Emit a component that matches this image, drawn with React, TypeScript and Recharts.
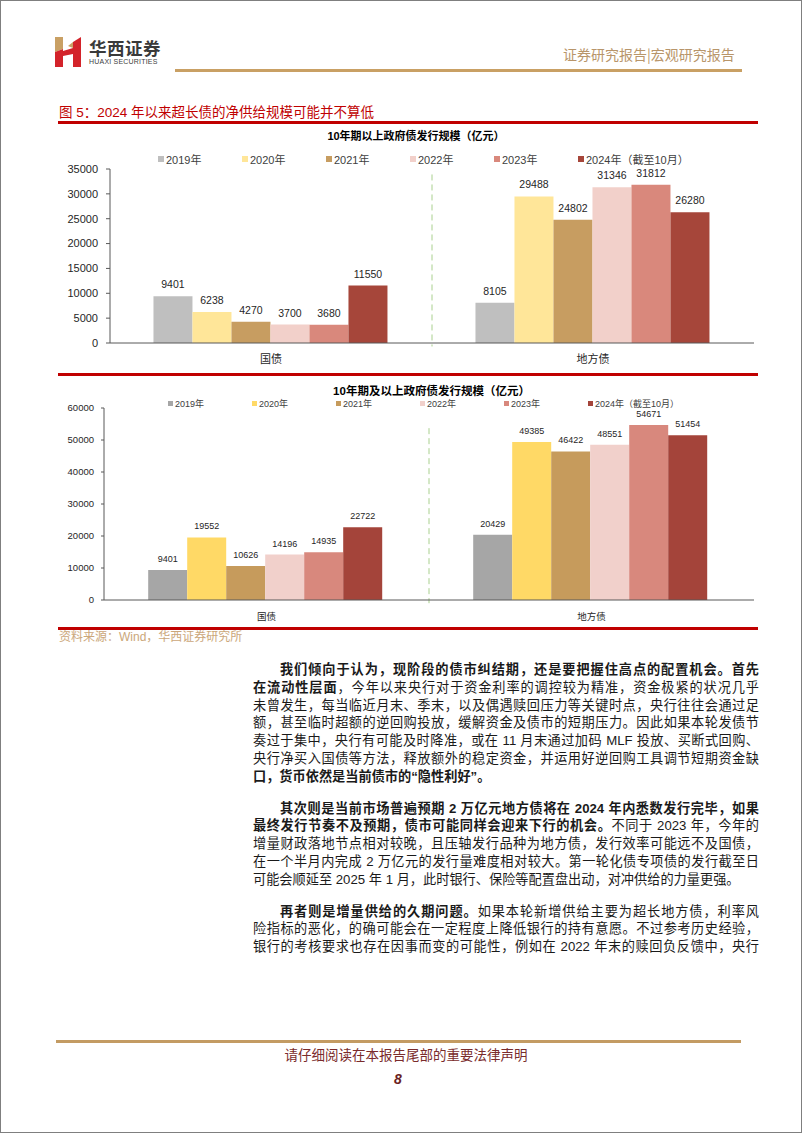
import React from "react"
import { BarChart, Bar, XAxis, YAxis, ReferenceLine, LabelList } from "recharts"

const categories = ["国债", "地方债"]
const years = ["2019年", "2020年", "2021年", "2022年", "2023年", "2024年（截至10月）"]
const keys = ["y2019", "y2020", "y2021", "y2022", "y2023", "y2024"]

// 10年期以上
const over10Treasury = [9401, 6238, 4270, 3700, 3680, 11550]
const over10Local = [8105, 29488, 24802, 31346, 31812, 26280]
// 10年期及以上
const from10Treasury = [9401, 19552, 10626, 14196, 14935, 22722]
const from10Local = [20429, 49385, 46422, 48551, 54671, 51454]

const ticksTop = [0, 5000, 10000, 15000, 20000, 25000, 30000, 35000]
const ticksBottom = [0, 10000, 20000, 30000, 40000, 50000, 60000]

const colorsTop = ["#bfbfbf", "#ffe699", "#c79d61", "#f2d0ca", "#d9887c", "#a6463a"]
const colorsBottom = ["#a6a6a6", "#ffd966", "#c69b5c", "#f1d0cb", "#d8887d", "#a4443a"]

const toRows = (treasury: number[], local: number[]) =>
  categories.map((name, i) => {
    const vals = i === 0 ? treasury : local
    const row: any = { name }
    keys.forEach((k, j) => (row[k] = vals[j]))
    return row
  })

const chartFont = "Arial, 'Liberation Sans', 'Noto Sans CJK SC', sans-serif"
const cjkFont = "'Liberation Sans', 'Noto Sans CJK SC', sans-serif"

interface GroupChartProps {
  top: number
  data: any[]
  colors: string[]
  ticks: number[]
  yWidth: number
  marginTop: number
  xHeight: number
  tickFont: number
  labelFont: number
  catFont: number
  gap: string
  sepTop: number
  sepBottom: number
  yTickSize: number
  yTickMargin: number
  xTickMargin: number
}

const GroupChart: React.FC<GroupChartProps> = (p) => {
  const max = p.ticks[p.ticks.length - 1]
  return (
    <div style={{ position: "absolute", left: 0, top: p.top, fontFamily: chartFont }}>
      <BarChart
        width={802}
        height={245}
        data={p.data}
        barCategoryGap={p.gap}
        barGap={0}
        margin={{ top: p.marginTop, right: 49, bottom: 0, left: 0 }}
      >
        <XAxis
          dataKey="name"
          height={p.xHeight}
          axisLine={{ stroke: "#595959" }}
          tickLine={false}
          tickSize={6}
          tickMargin={p.xTickMargin}
          tick={{ fontSize: p.catFont, fill: "#262626" }}
        />
        <YAxis
          width={p.yWidth}
          domain={[0, max]}
          ticks={p.ticks}
          interval={0}
          axisLine={{ stroke: "#595959" }}
          tickLine={{ stroke: "#595959" }}
          tickSize={p.yTickSize}
          tickMargin={p.yTickMargin}
          tick={{ fontSize: p.tickFont, fill: "#262626" }}
        />
        {/* dashed divider on the boundary between the two category bands */}
        <ReferenceLine
          segment={[
            { x: categories[0], y: p.sepTop },
            { x: categories[0], y: p.sepBottom },
          ]}
          position="end"
          ifOverflow="visible"
          stroke="#a9d08e"
          strokeDasharray="6 4"
        />
        {keys.map((k, i) => (
          <Bar key={k} dataKey={k} name={years[i]} fill={p.colors[i]} isAnimationActive={false}>
            <LabelList dataKey={k} position="top" offset={8} fill="#262626" fontSize={p.labelFont} />
          </Bar>
        ))}
      </BarChart>
    </div>
  )
}

const Legend: React.FC<{ top: number; left: number; colors: string[]; font: number; box: number }> = ({
  top,
  left,
  colors,
  font,
  box,
}) => (
  <>
    {years.map((y, i) => (
      <div
        key={y}
        style={{
          position: "absolute",
          left: left + i * 84,
          top: top - font * 0.7,
          height: font * 1.4,
          display: "flex",
          alignItems: "center",
          fontFamily: chartFont,
          fontSize: font,
          color: "#404040",
          whiteSpace: "nowrap",
        }}
      >
        <span style={{ width: box, height: box, background: colors[i], marginRight: 2 }} />
        {y}
      </div>
    ))}
  </>
)

type Seg = [string, boolean]
const para1: Seg[][] = [
  [["我们倾向于认为，现阶段的债市纠结期，还是要把握住高点的配置机会。首先", true]],
  [["在流动性层面", true], ["，今年以来央行对于资金利率的调控较为精准，资金极紧的状况几乎", false]],
  [["未曾发生，每当临近月末、季末，以及偶遇赎回压力等关键时点，央行往往会通过足", false]],
  [["额，甚至临时超额的逆回购投放，缓解资金及债市的短期压力。因此如果本轮发债节", false]],
  [["奏过于集中，央行有可能及时降准，或在 11 月末通过加码 MLF 投放、买断式回购、", false]],
  [["央行净买入国债等方法，释放额外的稳定资金，并运用好逆回购工具调节短期资金缺", false]],
  [["口，货币依然是当前债市的“隐性利好”。", true]],
]
const para2: Seg[][] = [
  [["其次则是当前市场普遍预期 2 万亿元地方债将在 2024 年内悉数发行完毕，如果", true]],
  [["最终发行节奏不及预期，债市可能同样会迎来下行的机会。", true], ["不同于 2023 年，今年的", false]],
  [["增量财政落地节点相对较晚，且压轴发行品种为地方债，发行效率可能远不及国债，", false]],
  [["在一个半月内完成 2 万亿元的发行量难度相对较大。第一轮化债专项债的发行截至日", false]],
  [["可能会顺延至 2025 年 1 月，此时银行、保险等配置盘出动，对冲供给的力量更强。", false]],
]
const para3: Seg[][] = [
  [["再者则是增量供给的久期问题。", true], ["如果本轮新增供给主要为超长地方债，利率风", false]],
  [["险指标的恶化，的确可能会在一定程度上降低银行的持有意愿。不过参考历史经验，", false]],
  [["银行的考核要求也存在因事而变的可能性，例如在 2022 年末的赎回负反馈中，央行", false]],
]

const LINE = 17.8
const PARA_GAP = 14
const BODY_TOP = 660

const Paragraph: React.FC<{ top: number; lines: Seg[][]; lastJustified?: boolean }> = ({ top, lines, lastJustified }) => (
  <div style={{ position: "absolute", left: 252, top, width: 506, fontFamily: cjkFont, fontSize: 13.2, color: "#1a1a1a" }}>
    {lines.map((line, i) => {
      const justify = i < lines.length - 1 || lastJustified
      return (
        <div
          key={i}
          style={{
            height: LINE,
            lineHeight: `${LINE}px`,
            textAlign: justify ? "justify" : "left",
            textAlignLast: justify ? "justify" : "left",
            paddingLeft: i === 0 ? 27 : 0,
          }}
        >
          {line.map(([t, b], j) => (
            <span key={j} style={{ fontWeight: b ? 700 : 400 }}>
              {t}
            </span>
          ))}
        </div>
      )
    })}
  </div>
)

const Logo = () => (
  <svg width={28} height={30} style={{ position: "absolute", left: 54, top: 36 }}>
    <polygon points="0,0 8,0 8,12 0,15" fill="#c9a064" />
    <polygon points="0,15 8,12 8,30 0,30" fill="#d3232a" />
    <polygon points="8,14 18,11 18,17 8,19" fill="#d3232a" />
    <polygon points="18,5 26,0 26,30 18,30" fill="#d3232a" />
    <polygon points="13,9 18,5 18,11" fill="#c9a064" />
  </svg>
)

const abs = (s: React.CSSProperties): React.CSSProperties => ({ position: "absolute", ...s })

export default function App() {
  const topRows = toRows(over10Treasury, over10Local)
  const bottomRows = toRows(from10Treasury, from10Local)
  return (
    <div
      style={{
        position: "absolute",
        left: 0,
        top: 0,
        width: 802,
        height: 1133,
        background: "#fff",
        border: "1px solid #7f7f7f",
        boxSizing: "border-box",
        overflow: "hidden",
      }}
    >
      <Logo />
      <div style={abs({ left: 88, top: 36, fontFamily: "'Noto Sans CJK SC'", fontWeight: 700, fontSize: 17.5, color: "#3a3a3a", letterSpacing: 0.5, lineHeight: "22px" })}>
        华西证券
      </div>
      <div style={abs({ left: 88, top: 56, fontFamily: cjkFont, fontSize: 7, color: "#404040", letterSpacing: 0.2, lineHeight: "9px" })}>
        HUAXI SECURITIES
      </div>
      <div style={abs({ left: 562, top: 44, fontFamily: "'Noto Sans CJK SC'", fontSize: 14, color: "#b8956a", lineHeight: "18px", whiteSpace: "nowrap" })}>
        证券研究报告|宏观研究报告
      </div>
      <div style={abs({ left: 174, top: 68, width: 567, height: 3, background: "#c9a064" })} />

      <div style={abs({ left: 58, top: 103, fontFamily: cjkFont, fontSize: 13.5, color: "#c00000", lineHeight: "18px", whiteSpace: "nowrap" })}>
        图 5：2024 年以来超长债的净供给规模可能并不算低
      </div>
      <div style={abs({ left: 57, top: 120, width: 700, height: 2.5, background: "#c00000" })} />

      <GroupChart
        top={125}
        data={topRows}
        colors={colorsTop}
        ticks={ticksTop}
        yWidth={109}
        marginTop={43}
        xHeight={28}
        tickFont={11}
        labelFont={10.5}
        catFont={11}
        gap="13.5%"
        sepTop={33900}
        sepBottom={-700}
        yTickSize={4}
        yTickMargin={8}
        xTickMargin={6}
      />
      <div style={abs({ left: 0, width: 830, top: 127, textAlign: "center", fontFamily: chartFont, fontWeight: 700, fontSize: 11, color: "#000", lineHeight: "16px" })}>
        10年期以上政府债发行规模（亿元）
      </div>
      <Legend top={158} left={157} colors={colorsTop} font={11} box={6} />

      <div style={abs({ left: 57, top: 372, width: 700, height: 2.5, background: "#c00000" })} />

      <GroupChart
        top={380}
        data={bottomRows}
        colors={colorsBottom}
        ticks={ticksBottom}
        yWidth={103}
        marginTop={27}
        xHeight={26}
        tickFont={9.5}
        labelFont={9}
        catFont={9.5}
        gap="13.6%"
        sepTop={53700}
        sepBottom={-1000}
        yTickSize={3}
        yTickMargin={7}
        xTickMargin={7}
      />
      <div style={abs({ left: 0, width: 861, top: 382, textAlign: "center", fontFamily: chartFont, fontWeight: 700, fontSize: 11.5, color: "#000", lineHeight: "16px" })}>
        10年期及以上政府债发行规模（亿元）
      </div>
      <Legend top={403} left={167} colors={colorsBottom} font={9} box={5} />

      <div style={abs({ left: 57, top: 626, width: 700, height: 2.5, background: "#c00000" })} />
      <div style={abs({ left: 58, top: 629, fontFamily: cjkFont, fontSize: 12, color: "#cba77a", lineHeight: "15px", whiteSpace: "nowrap" })}>
        资料来源：Wind，华西证券研究所
      </div>

      <Paragraph top={BODY_TOP} lines={para1} />
      <Paragraph top={BODY_TOP + 7 * LINE + PARA_GAP} lines={para2} />
      <Paragraph top={BODY_TOP + 12 * LINE + 2 * PARA_GAP} lines={para3} lastJustified />

      <div style={abs({ left: 55, top: 1039, width: 685, height: 3, background: "#c39b63" })} />
      <div style={abs({ left: 0, width: 810, top: 1044, textAlign: "center", fontFamily: "'Noto Sans CJK SC'", fontSize: 13.5, color: "#7a2b2b", lineHeight: "18px" })}>
        请仔细阅读在本报告尾部的重要法律声明
      </div>
      <div style={abs({ left: 393, top: 1069, fontFamily: "Arial, 'Liberation Sans'", fontWeight: 700, fontStyle: "italic", fontSize: 14, color: "#6b1f1f", lineHeight: "18px" })}>
        8
      </div>
    </div>
  )
}
